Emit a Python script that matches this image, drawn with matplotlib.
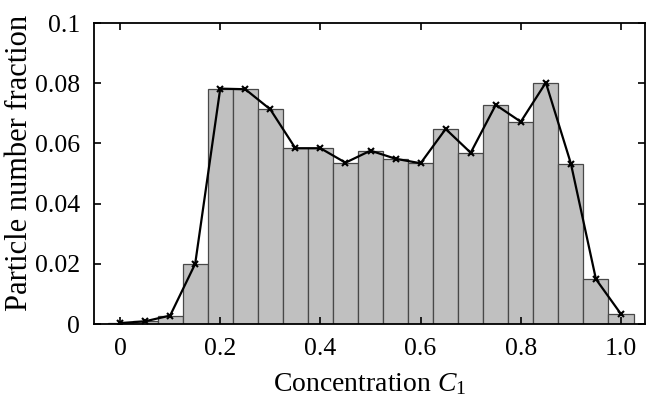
import numpy as np
import matplotlib
matplotlib.use("Agg")
import matplotlib.pyplot as plt

# Histogram of particle concentration
conc = [0.0, 0.05, 0.1, 0.15, 0.2, 0.25, 0.3, 0.35, 0.4, 0.45, 0.5,
        0.55, 0.6, 0.65, 0.7, 0.75, 0.8, 0.85, 0.9, 0.95, 1.0]
fraction = [0.0003, 0.0009, 0.0028, 0.0200, 0.0782, 0.0780, 0.0713, 0.0584,
            0.0584, 0.0536, 0.0576, 0.0549, 0.0534, 0.0648, 0.0569, 0.0728,
            0.0672, 0.0802, 0.0533, 0.0149, 0.0033]
xticks = [0, 0.2, 0.4, 0.6, 0.8, 1.0]
xtick_labels = ['0', '0.2', '0.4', '0.6', '0.8', '1.0']
yticks = [0, 0.02, 0.04, 0.06, 0.08, 0.1]
ytick_labels = ['0', '0.02', '0.04', '0.06', '0.08', '0.1']

plt.rcParams['font.family'] = 'Liberation Serif'
plt.rcParams['mathtext.fontset'] = 'custom'
plt.rcParams['mathtext.rm'] = 'Liberation Serif'
plt.rcParams['mathtext.it'] = 'Liberation Serif:italic'

fig = plt.figure(figsize=(6.46, 4.01), dpi=100)
ax = fig.add_axes([0.1455, 0.192, 0.853, 0.7506])

ax.bar(conc, fraction, width=0.05, color='#c0c0c0', edgecolor='#484848', linewidth=0.9)
ax.plot(conc, fraction, color='black', linewidth=1.6, marker='x', markersize=5,
        markeredgewidth=1.5)

ax.set_xlim(-0.052, 1.048)
ax.set_ylim(0, 0.1)
ax.set_xticks(xticks)
ax.set_xticklabels(xtick_labels)
ax.set_yticks(yticks)
ax.set_yticklabels(ytick_labels)
ax.tick_params(direction='in', top=True, right=True, length=5, width=1.2,
               labelsize=18.5)
ax.tick_params(axis='x', pad=10)
ax.tick_params(axis='y', pad=10)
for s in ax.spines.values():
    s.set_linewidth(1.3)

ax.set_xlabel('Concentration $C_1$', fontsize=20, labelpad=8)
ax.set_ylabel('Particle number fraction', fontsize=22)
ax.yaxis.set_label_coords(-0.108, 0.535)

fig.savefig('out.png', dpi=100)
